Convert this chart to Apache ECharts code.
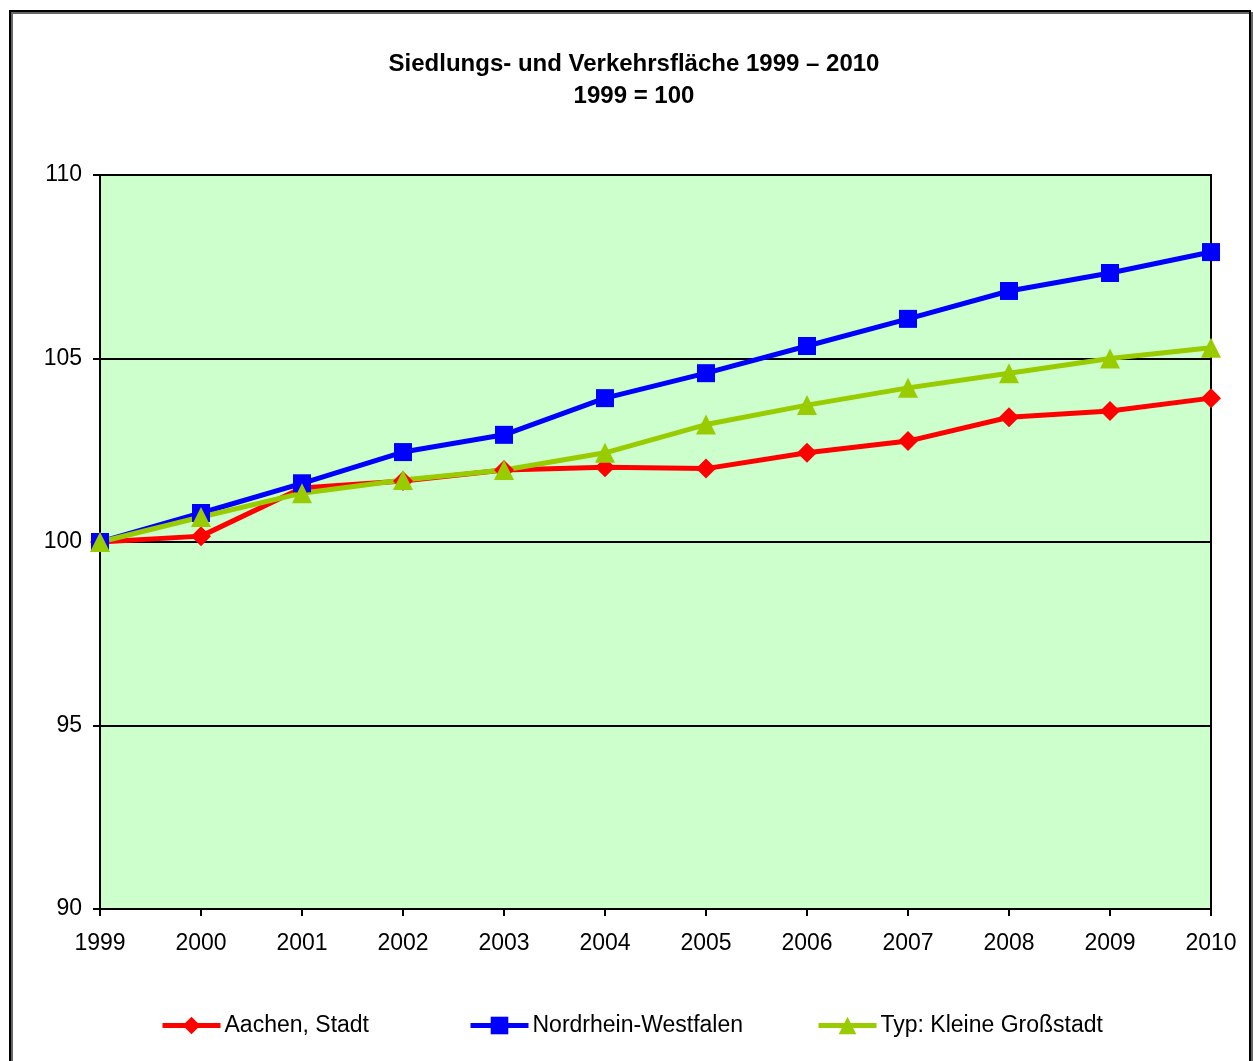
<!DOCTYPE html>
<html>
<head>
<meta charset="utf-8">
<script src="https://cdn.jsdelivr.net/npm/echarts@6/dist/echarts.min.js"></script>
<style>
html,body{margin:0;padding:0;background:#fff;}
#chart{width:1253px;height:1061px;}
</style>
</head>
<body>
<div id="chart"></div>
<script>
const years = ['1999','2000','2001','2002','2003','2004','2005','2006','2007','2008','2009','2010'];
const aachen = [100, 100.16, 101.47, 101.66, 101.96, 102.04, 102.0, 102.43, 102.75, 103.4, 103.57, 103.92];
const nrw = [100, 100.79, 101.6, 102.45, 102.92, 103.92, 104.6, 105.34, 106.08, 106.84, 107.33, 107.9];
const typ = [100, 100.68, 101.33, 101.69, 101.96, 102.43, 103.2, 103.73, 104.2, 104.6, 105.0, 105.29];
const seriesNames = ['Aachen, Stadt', 'Nordrhein-Westfalen', 'Typ: Kleine Großstadt'];
const titleText = 'Siedlungs- und Verkehrsfläche 1999 – 2010\n1999 = 100';

const font = '"Liberation Sans", Arial, sans-serif';
const chart = echarts.init(document.getElementById('chart'), null, {renderer: 'canvas'});

const legendBase = {
  orient: 'horizontal',
  top: 1014,
  padding: 0,
  itemWidth: 58,
  itemHeight: 22,
  itemGap: 4,
  lineStyle: {width: 5},
  textStyle: {fontFamily: font, fontSize: 23, color: '#000', padding: [0, 0, 0, -1]}
};

chart.setOption({
  animation: false,
  backgroundColor: '#fff',
  title: {
    text: titleText,
    left: 629,
    textAlign: 'center',
    top: 43,
    textStyle: {fontFamily: font, fontSize: 24, fontWeight: 'bold', color: '#000', lineHeight: 32}
  },
  graphic: [{
    type: 'rect',
    shape: {x: 10, y: 11, width: 1240, height: 1100},
    style: {fill: 'none', stroke: '#000', lineWidth: 2, shadowColor: 'rgba(0,0,0,0.6)', shadowOffsetX: 2, shadowOffsetY: 2, shadowBlur: 0},
    z: 100
  }],
  legend: [
    Object.assign({}, legendBase, {left: 160, data: [seriesNames[0]]}),
    Object.assign({}, legendBase, {left: 468, data: [seriesNames[1]]}),
    Object.assign({}, legendBase, {left: 816, data: [seriesNames[2]]})
  ],
  grid: {
    left: 100, top: 175, width: 1111, height: 734,
    show: true, backgroundColor: '#CCFFCC', borderColor: '#000', borderWidth: 2,
    containLabel: false
  },
  xAxis: {
    type: 'category',
    data: years,
    boundaryGap: false,
    axisLine: {show: true, lineStyle: {color: '#000', width: 2}},
    axisTick: {show: true, alignWithLabel: true, length: 7, lineStyle: {color: '#000', width: 2}},
    axisLabel: {fontFamily: font, fontSize: 23, color: '#000', margin: 23, interval: 0},
    splitLine: {show: false}
  },
  yAxis: {
    type: 'value',
    min: 90, max: 110, interval: 5,
    axisLine: {show: true, lineStyle: {color: '#000', width: 2}},
    axisTick: {show: true, length: 7, lineStyle: {color: '#000', width: 2}},
    axisLabel: {fontFamily: font, fontSize: 23, color: '#000', margin: 18},
    splitLine: {show: true, lineStyle: {color: '#000', width: 2}}
  },
  series: [
    {
      name: seriesNames[0], type: 'line', data: aachen,
      symbol: 'diamond', symbolSize: 20,
      lineStyle: {color: '#FF0000', width: 5},
      itemStyle: {color: '#FF0000'}
    },
    {
      name: seriesNames[1], type: 'line', data: nrw,
      symbol: 'rect', symbolSize: 18,
      lineStyle: {color: '#0000FF', width: 5},
      itemStyle: {color: '#0000FF'}
    },
    {
      name: seriesNames[2], type: 'line', data: typ,
      symbol: 'triangle', symbolSize: 20,
      lineStyle: {color: '#99CC00', width: 5},
      itemStyle: {color: '#99CC00'}
    }
  ]
});
</script>
</body>
</html>
